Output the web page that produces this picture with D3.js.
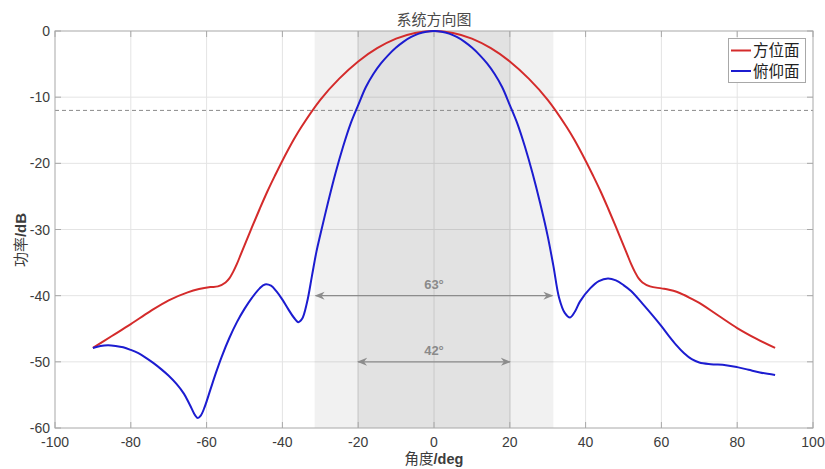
<!DOCTYPE html>
<html><head><meta charset="utf-8">
<script src="https://cdn.jsdelivr.net/npm/d3@7"></script>
<style>body{margin:0;background:#fff}svg{display:block}</style>
</head><body><div id="chart"></div>
<script>
const redAngles = [-90,-85,-80,-75,-70,-65,-62,-59,-57,-55,-54,-53,-52,-51,-50,-48,-46,-44,-42,-40,-37,-35,-30,-25,-20,-15,-10,-5,0,5,10,15,20,25,30,35,37,40,42,44,46,48,50,51,52,53,54,55,57,60,62,64,66,68,70,75,80,85,90];
const redValues = [-47.9,-46.1,-44.3,-42.4,-40.7,-39.5,-39.0,-38.7,-38.6,-38.0,-37.4,-36.4,-35.2,-33.8,-32.4,-29.6,-26.9,-24.3,-21.9,-19.6,-16.4,-14.5,-10.4,-7.2,-4.6,-2.6,-1.15,-0.3,0,-0.3,-1.15,-2.6,-4.6,-7.2,-10.4,-14.5,-16.4,-19.6,-21.9,-24.3,-26.9,-29.6,-32.4,-33.8,-35.2,-36.4,-37.4,-38.0,-38.6,-38.9,-39.1,-39.4,-39.9,-40.5,-41.1,-43.0,-44.9,-46.5,-47.9];
const blueAngles = [-90,-88,-86,-84,-82,-80,-78,-76,-74,-72,-70,-68,-66,-64.5,-63,-62.3,-61.5,-60.5,-59,-57.5,-56,-54,-52,-50,-48,-46,-44.6,-43,-41.5,-40,-38.5,-37,-35.8,-34.8,-33.5,-32.2,-31,-30,-28,-26,-24,-22,-20,-18,-16,-14,-12,-10,-8,-6,-4,-2,0,2,4,6,8,10,12,14,16,18,20,22,24,26,28,30,31.5,33,34.5,35.9,37.2,38.5,41.2,43.5,45.9,48,50,52,55,58,60,62,64,66,68,70,73,77,80,83,86,90];
const blueValues = [-47.9,-47.6,-47.5,-47.6,-47.8,-48.2,-48.7,-49.4,-50.2,-51.1,-52.1,-53.3,-54.8,-56.4,-58.1,-58.5,-58.1,-56.8,-54.2,-51.6,-49.2,-46.4,-44.0,-42.0,-40.3,-38.9,-38.3,-38.5,-39.4,-40.6,-42.0,-43.3,-44.0,-43.5,-41.0,-37.0,-33.3,-30.8,-26.0,-21.5,-17.5,-14.0,-11.2,-8.5,-6.5,-4.9,-3.6,-2.5,-1.6,-0.9,-0.4,-0.1,0,-0.1,-0.4,-0.9,-1.6,-2.5,-3.6,-4.9,-6.5,-8.5,-11.2,-14.0,-17.5,-21.5,-26.0,-31.0,-35.5,-40.3,-42.6,-43.3,-42.4,-40.9,-38.9,-37.8,-37.4,-37.7,-38.4,-39.3,-41.2,-43.2,-44.6,-46.1,-47.5,-48.7,-49.6,-50.1,-50.35,-50.5,-50.8,-51.2,-51.6,-52.0];
const seriesNames = ["方位面","俯仰面"];
const seriesColors = ["#d42b2b","#1c1cd0"];
const xTicks = [-100,-80,-60,-40,-20,0,20,40,60,80,100];
const yTicks = [0,-10,-20,-30,-40,-50,-60];
const beamBounds = [[-31.5,31.5],[-20.3,20.3]];
const beamLabels = ["63°","42°"];
const beamLevels = [-40,-50];
const threshold = -12;

const W = 825, H = 469;
const m = {left:55, top:31, right:12, bottom:41};
const svg = d3.select("#chart").append("svg").attr("width",W).attr("height",H);
const x = d3.scaleLinear().domain([-100,100]).range([m.left, W-m.right]);
const y = d3.scaleLinear().domain([-60,0]).range([H-m.bottom, m.top]);
const x0 = x.range()[0], x1 = x.range()[1], y0 = y.range()[1], y1 = y.range()[0];

// grid
svg.append("g").selectAll("line").data(xTicks.slice(1,-1)).join("line")
  .attr("x1",d=>x(d)).attr("x2",d=>x(d)).attr("y1",y0).attr("y2",y1)
  .attr("stroke","#e4e4e4").attr("stroke-width",1);
svg.append("g").selectAll("line").data(yTicks.slice(1,-1)).join("line")
  .attr("y1",d=>y(d)).attr("y2",d=>y(d)).attr("x1",x0).attr("x2",x1)
  .attr("stroke","#e4e4e4").attr("stroke-width",1);

// shaded beam regions
const shadeOp = [0.055, 0.06];
beamBounds.forEach((b,i)=>{
  svg.append("rect").attr("x",x(b[0])).attr("y",y0).attr("width",x(b[1])-x(b[0])).attr("height",y1-y0)
    .attr("fill","#000").attr("fill-opacity",shadeOp[i]);
});

// threshold dashed line
svg.append("line").attr("x1",x0).attr("x2",x1).attr("y1",y(threshold)).attr("y2",y(threshold))
  .attr("stroke","#8a8a8a").attr("stroke-width",1).attr("stroke-dasharray","4,3");

// arrows
const defs = svg.append("defs");
defs.append("marker").attr("id","ah").attr("viewBox","0 0 10 10").attr("refX",9).attr("refY",5)
  .attr("markerWidth",10).attr("markerHeight",10).attr("markerUnits","userSpaceOnUse").attr("orient","auto-start-reverse")
  .append("path").attr("d","M0,1 L10,5 L0,9 L3,5 Z").attr("fill","#8c8c8c");
beamBounds.forEach((b,i)=>{
  svg.append("line").attr("x1",x(b[0])+1).attr("x2",x(b[1])-1).attr("y1",y(beamLevels[i])).attr("y2",y(beamLevels[i]))
    .attr("stroke","#8c8c8c").attr("stroke-width",1.2)
    .attr("marker-start","url(#ah)").attr("marker-end","url(#ah)");
  svg.append("text").attr("x",x((b[0]+b[1])/2)).attr("y",y(beamLevels[i])-7)
    .attr("text-anchor","middle").attr("font-family","Liberation Sans, Arial, sans-serif")
    .attr("font-size",13).attr("font-weight","bold").attr("fill","#8a8a8a").text(beamLabels[i]);
});

// box
svg.append("rect").attr("x",x0).attr("y",y0).attr("width",x1-x0).attr("height",y1-y0)
  .attr("fill","none").attr("stroke","#a8a8a8").attr("stroke-width",1);

// ticks (inward, all sides)
const tl = 6;
const tk = svg.append("g").attr("stroke","#a8a8a8").attr("stroke-width",1);
xTicks.forEach(d=>{
  tk.append("line").attr("x1",x(d)).attr("x2",x(d)).attr("y1",y1).attr("y2",y1-tl);
  tk.append("line").attr("x1",x(d)).attr("x2",x(d)).attr("y1",y0).attr("y2",y0+tl);
});
yTicks.forEach(d=>{
  tk.append("line").attr("y1",y(d)).attr("y2",y(d)).attr("x1",x0).attr("x2",x0+tl);
  tk.append("line").attr("y1",y(d)).attr("y2",y(d)).attr("x1",x1).attr("x2",x1-tl);
});

// tick labels
const tf = "Liberation Sans, Arial, sans-serif";
svg.append("g").selectAll("text").data(xTicks).join("text")
  .attr("x",d=>x(d)).attr("y",y1+19).attr("text-anchor","middle")
  .attr("font-family",tf).attr("font-size",14).attr("fill","#3c3c3c").text(d=>d);
svg.append("g").selectAll("text").data(yTicks).join("text")
  .attr("x",x0-5).attr("y",d=>y(d)+5).attr("text-anchor","end")
  .attr("font-family",tf).attr("font-size",14).attr("fill","#3c3c3c").text(d=>d);

// curves
const series = [
  {name:seriesNames[0], color:seriesColors[0], pts:redAngles.map((a,i)=>[a,redValues[i]])},
  {name:seriesNames[1], color:seriesColors[1], pts:blueAngles.map((a,i)=>[a,blueValues[i]])}
];
const line = d3.line().x(d=>x(d[0])).y(d=>y(d[1])).curve(d3.curveCatmullRom.alpha(0.5));
series.forEach(s=>{
  svg.append("path").attr("d",line(s.pts)).attr("fill","none")
    .attr("stroke",s.color).attr("stroke-width",2).attr("stroke-linejoin","round");
});

// title
const cjk = "Noto Sans CJK SC, sans-serif";
svg.append("text").attr("x",(x0+x1)/2).attr("y",25).attr("text-anchor","middle")
  .attr("font-family",cjk).attr("font-size",15).attr("fill","#4a4a4a").text("系统方向图");

// axis labels
const xl = svg.append("text").attr("x",(x0+x1)/2).attr("y",464).attr("text-anchor","middle").attr("fill","#3c3c3c");
xl.append("tspan").attr("font-family",cjk).attr("font-size",14.5).text("角度");
xl.append("tspan").attr("font-family",tf).attr("font-size",14.5).attr("font-weight","bold").text("/deg");
const yl = svg.append("text").attr("transform",`translate(26,240) rotate(-90)`).attr("text-anchor","middle").attr("fill","#3c3c3c");
yl.append("tspan").attr("font-family",cjk).attr("font-size",15).text("功率");
yl.append("tspan").attr("font-family",tf).attr("font-size",15).attr("font-weight","bold").text("/dB");

// legend
const lg = svg.append("g");
lg.append("rect").attr("x",728.5).attr("y",38.5).attr("width",77).attr("height",44)
  .attr("fill","#fff").attr("stroke","#a8a8a8").attr("stroke-width",1);
series.forEach((s,i)=>{
  const yy = 50.5 + i*20.5;
  lg.append("line").attr("x1",731).attr("x2",751).attr("y1",yy).attr("y2",yy).attr("stroke",s.color).attr("stroke-width",2);
  lg.append("text").attr("x",753).attr("y",yy+5.5).attr("font-family",cjk).attr("font-size",15.5)
    .attr("fill","#222").text(s.name);
});
</script></body></html>
